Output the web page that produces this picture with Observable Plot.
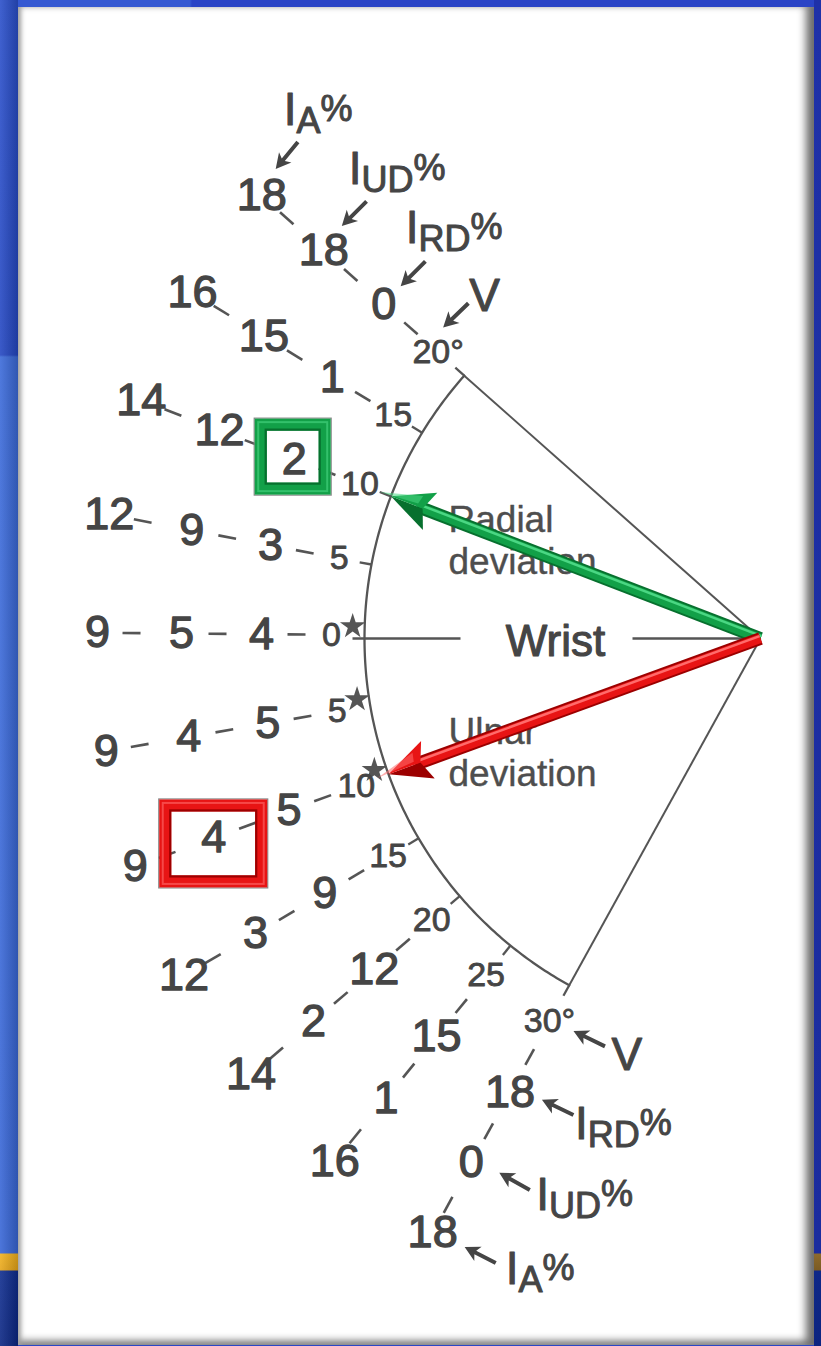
<!DOCTYPE html>
<html>
<head>
<meta charset="utf-8">
<script src="https://cdn.jsdelivr.net/npm/d3@7"></script>
<script src="https://cdn.jsdelivr.net/npm/@observablehq/plot@0.6"></script>
<style>
  html, body { margin: 0; padding: 0; background: #2945c8; }
  #wrap { position: relative; width: 821px; height: 1346px; overflow: hidden; background: #2a46c7; }
  #topbar { position: absolute; left: 0; top: 0; width: 821px; height: 7px;
    background: linear-gradient(to right, #3559d2 0, #3559d2 190px, #2a44c6 192px, #2a44c6 100%); }
  #lstrip { position: absolute; left: 0; top: 0; width: 18px; height: 1346px;
    background: linear-gradient(to right, rgba(255,255,255,0.10), rgba(0,0,0,0.18)),
      linear-gradient(to bottom, #2a4fca 0, #2447c2 355px, #3b6ad9 357px, #3866d6 1253px, #f2b21e 1254px, #e6a51a 1270px, #0f2d8f 1271px, #0b2683 100%); }
  #rstrip { position: absolute; left: 814px; top: 0; width: 7px; height: 1346px;
    background: linear-gradient(to bottom, #1f31a8 0, #1b2c9e 1253px, #8d6a2c 1254px, #7b5b24 1270px, #0f2888 1271px, #0c2480 100%); }
  #panel { position: absolute; left: 18px; top: 7px; width: 796px; height: 1338px; background: #fff;
    box-shadow: inset 5px 0 5px -2px #a0a0a0, inset -11px 0 9px -3px #6c6c6c, inset 0 -8px 7px -3px #8c8c8c; }
  #chart { position: absolute; left: 0; top: 0; }
</style>
</head>
<body>
<div id="wrap">
  <div id="topbar"></div>
  <div id="lstrip"></div>
  <div id="rstrip"></div>
  <div id="panel"></div>
  <div id="chart"></div>
</div>
<script>
// ---------------- data ----------------
const V = [20, 15, 10, 5, 0, -5, -10, -15, -20, -25, -30];          // wrist angle (+ radial, - ulnar)
const vLabels = ["20°", "15", "10", "5", "0", "5", "10", "15", "20", "25", "30°"];
const IRD = [0, 1, 2, 3, 4, 5, 5, 9, 12, 15, 18];
const IUD = [18, 15, 12, 9, 5, 4, 4, 3, 2, 1, 0];
const IA  = [18, 16, 14, 12, 9, 9, 9, 12, 14, 16, 18];
const rings = ["V", "IRD", "IUD", "IA"];
const ringNames = ["V", "IRD%", "IUD%", "IA%"];
const tickAngles = [20, 15, 10, 5, -15, -20, -25, -30];
const starAngles = [0, -5, -10];
const highlightV = [10, -10];
const highlightRing = ["IRD", "IUD"];
const regionNames = [["Radial", "deviation"], ["Ulnar", "deviation"]];

// ---------------- layout ----------------
const W = 821, H = 1346, CX = 760, CY = 638;
const K = 2.054, A0 = 0.5, R = 396;
const ringBase = {V: 429, IRD: 499, IUD: 579, IA: 663};
const ringCurv = {V: 0.4, IRD: 1, IUD: 1, IA: 0.8};
const ang = v => K * v + A0;
const rr = (ring, v) => ringBase[ring] + ringCurv[ring] * (-0.12 * v + 0.018 * v * v);
const pol = (r, a) => { const t = a * Math.PI / 180; return [-r * Math.cos(t), -r * Math.sin(t)]; };
const FONT = "Liberation Sans, Arial, Helvetica, sans-serif";
const INK = "#454545", LINE = "#555555";

const series = {IRD, IUD, IA};
const labels = [];
V.forEach((v, i) => rings.forEach(ring => {
  const [x, y] = pol(rr(ring, v), ang(v));
  labels.push({v, ring, x, y, text: ring === "V" ? vLabels[i] : String(series[ring][i])});
}));
const labelAt = (v, ring) => labels.find(d => d.v === v && d.ring === ring);

const dashBias = [0, 4, 8];
const dashes = [];
V.forEach(v => [0, 1, 2].forEach(k => {
  const m = (rr(rings[k], v) + rr(rings[k + 1], v)) / 2 + dashBias[k];
  const [x1, y1] = pol(m - 9, ang(v)), [x2, y2] = pol(m + 9, ang(v));
  dashes.push({x1, y1, x2, y2});
}));

const arc = d3.range(-30, 20.001, 0.25).map(v => { const [x, y] = pol(R, ang(v)); return {x, y}; });
const sides = [V[0], V[V.length - 1]].map(v => { const [x2, y2] = pol(R, ang(v)); return {x1: 0, y1: 0, x2, y2}; });
const ticks = tickAngles.map(v => { const [x1, y1] = pol(R, ang(v)), [x2, y2] = pol(R + 12, ang(v)); return {x1, y1, x2, y2}; });
const stars = starAngles.map(v => { const [x, y] = pol(R + 12, ang(v) + 1.2); return {x, y}; });
const wristSegs = [[R + 12, 300], [128, 2]].map(([a, b]) => { const [x1, y1] = pol(a, 0), [x2, y2] = pol(b, 0); return {x1, y1, x2, y2}; });
const wristLabel = [{x: pol(205, 0)[0], y: 3, text: "Wrist"}];
const regionRows = [[-118, -76], [94, 136]];
const regionText = regionNames.flatMap((lines, i) => lines.map((t, j) => ({text: t, x: -312, y: regionRows[i][j]})));

// annotations: [textDx, baselineDy, arrowStartDx, arrowStartDy, arrowEndDx, arrowEndDy]
const annLayout = [
  {v: 20, V: [31, -42, 31, -50, 5, -25], IRD: [22, -61, 42, -43, 17, -18], IUD: [25, -67, 43, -50, 18, -25], IA: [22, -71, 37, -55, 14, -27]},
  {v: -30, V: [62, 49, 55, 25, 24, 10], IRD: [65, 46, 63, 22, 32, 7], IUD: [65, 47, 60, 28, 28, 10], IA: [73, 51, 63, 30, 32, 14]}
];
const ANN_FS = 46;
const annTexts = [], annArrows = [];
annLayout.forEach(L => rings.forEach((ring, k) => {
  const l = labelAt(L.v, ring), [tx, tb, sx, sy, ex, ey] = L[ring];
  annTexts.push({x: l.x + tx, y: l.y + tb - 0.32 * ANN_FS, text: ringNames[k]});
  annArrows.push({x: l.x + ex, y: l.y + ey, rot: Math.atan2(ex - sx, -(ey - sy)) * 180 / Math.PI});
}));

const boxHalf = [[32, 32], [48, 38]];
const boxOff = [[-1, -2], [0, 6]];
const palette = [
  {base: "#12a048", light: "#4ad783", dark: "#07702e"},
  {base: "#e81414", light: "#ff6b6b", dark: "#9c0000"}
];
const boxes = highlightV.map((v, i) => {
  const l = labelAt(v, highlightRing[i]);
  return {cx: l.x + boxOff[i][0], cy: l.y + boxOff[i][1], hw: boxHalf[i][0], hh: boxHalf[i][1], ...palette[i]};
});

const mainArrows = highlightV.map((v, i) => {
  const [tx, ty] = pol(R, ang(v));
  const len = Math.hypot(tx, ty), ux = tx / len, uy = ty / len;
  return {tx, ty, ux, uy, sx: tx - ux * 28, sy: ty - uy * 28,
          rot: Math.atan2(tx, -ty) * 180 / Math.PI, ...palette[i]};
});

const face = sgn => ({draw(ctx, l) { ctx.moveTo(0, -l); ctx.lineTo(sgn * 20, 0); ctx.lineTo(0, -8); ctx.closePath(); }});
const smallArrow = {draw(ctx, l) {
  const hl = 15, hw = 8, sw = 2;
  ctx.moveTo(0, -l); ctx.lineTo(hw, -l + hl); ctx.lineTo(sw, -l + hl - 3); ctx.lineTo(sw, 0);
  ctx.lineTo(-sw, 0); ctx.lineTo(-sw, -l + hl - 3); ctx.lineTo(-hw, -l + hl); ctx.closePath();
}};

const lk = (data, o) => Plot.link(data, {x1: "x1", y1: "y1", x2: "x2", y2: "y2", ...o});

const marks = [
  Plot.line(arc, {x: "x", y: "y", stroke: LINE, strokeWidth: 2.3}),
  lk(sides, {stroke: LINE, strokeWidth: 2}),
  lk(ticks, {stroke: LINE, strokeWidth: 2.3}),
  Plot.dot(stars, {x: "x", y: "y", symbol: "star", r: 8, fill: LINE}),
  lk(wristSegs, {stroke: LINE, strokeWidth: 2.6}),
  lk(dashes, {stroke: LINE, strokeWidth: 2.6}),
  Plot.text(labels.filter(d => d.ring === "V"), {x: "x", y: "y", text: "text", fontSize: 34, fontFamily: FONT, fill: INK, stroke: INK, strokeWidth: 0.8}),
  Plot.text(labels.filter(d => d.ring !== "V"), {x: "x", y: "y", text: "text", fontSize: 45, fontFamily: FONT, fill: INK, stroke: INK, strokeWidth: 1.3}),
  Plot.text(wristLabel, {x: "x", y: "y", text: "text", fontSize: 44, fontFamily: FONT, fill: INK, stroke: INK, strokeWidth: 1.1}),
  Plot.text(regionText, {x: "x", y: "y", text: "text", textAnchor: "start", fontSize: 37, fontFamily: FONT, fill: "#4e4e4e", stroke: "#4e4e4e", strokeWidth: 0.4}),
  Plot.text(annTexts, {x: "x", y: "y", text: "text", textAnchor: "start", fontSize: ANN_FS, fontFamily: FONT, fill: INK, stroke: INK, strokeWidth: 1}),
  Plot.vector(annArrows, {x: "x", y: "y", rotate: "rot", length: 35, anchor: "end", shape: smallArrow, fill: INK, stroke: "none"})
];

boxes.forEach(b => {
  const R4 = e => [{x1: b.cx - b.hw - e, x2: b.cx + b.hw + e, y1: b.cy - b.hh - e, y2: b.cy + b.hh + e}];
  marks.push(
    Plot.rect(R4(6.5), {x1: "x1", x2: "x2", y1: "y1", y2: "y2", fill: "none", stroke: "#8a8a8a", strokeWidth: 1.2}),
    Plot.rect(R4(0), {x1: "x1", x2: "x2", y1: "y1", y2: "y2", fill: "none", stroke: b.base, strokeWidth: 12}),
    Plot.rect(R4(2.5), {x1: "x1", x2: "x2", y1: "y1", y2: "y2", fill: "none", stroke: b.light, strokeWidth: 2, strokeOpacity: 0.6}),
    Plot.rect(R4(-5), {x1: "x1", x2: "x2", y1: "y1", y2: "y2", fill: "none", stroke: b.dark, strokeWidth: 2.2})
  );
});

mainArrows.forEach(a => {
  const nx = -a.uy * 2.5, ny = a.ux * 2.5;
  marks.push(
    lk([{x1: 0, y1: 0, x2: a.sx, y2: a.sy}], {stroke: a.dark, strokeWidth: 13, strokeLinecap: "butt"}),
    lk([{x1: 0, y1: 0, x2: a.sx, y2: a.sy}], {stroke: a.base, strokeWidth: 9, strokeLinecap: "butt"}),
    lk([{x1: nx, y1: ny, x2: a.sx + nx, y2: a.sy + ny}], {stroke: a.light, strokeWidth: 2.5, strokeLinecap: "butt"}),
    Plot.vector([a], {x: "tx", y: "ty", rotate: "rot", length: 42, anchor: "end", shape: face(-1), fill: a.dark, stroke: "none"}),
    Plot.vector([a], {x: "tx", y: "ty", rotate: "rot", length: 42, anchor: "end", shape: face(1), fill: a.base, stroke: "none"}),
    Plot.vector([a], {x: "tx", y: "ty", rotate: "rot", length: 30, anchor: "end", shape: {draw(ctx, l) { ctx.moveTo(0, -l - 12); ctx.lineTo(12, 0); ctx.lineTo(3, -2); ctx.closePath(); }}, fill: a.light, stroke: "none", fillOpacity: 0.55})
  );
});

const plot = Plot.plot({
  width: W, height: H, margin: 0,
  x: {domain: [-CX, W - CX], axis: null},
  y: {domain: [H - CY, -CY], axis: null},
  style: {background: "transparent", overflow: "visible"},
  marks
});

d3.select(plot).selectAll("text").each(function () {
  const m = /^I(A|UD|RD)%$/.exec(this.textContent);
  if (!m) return;
  const t = d3.select(this);
  t.text(null);
  t.append("tspan").text("I");
  t.append("tspan").attr("font-size", 36).attr("dy", 8).text(m[1]);
  t.append("tspan").attr("font-size", 36).attr("dy", -12).text("%");
});

document.getElementById("chart").appendChild(plot);
</script>
</body>
</html>
